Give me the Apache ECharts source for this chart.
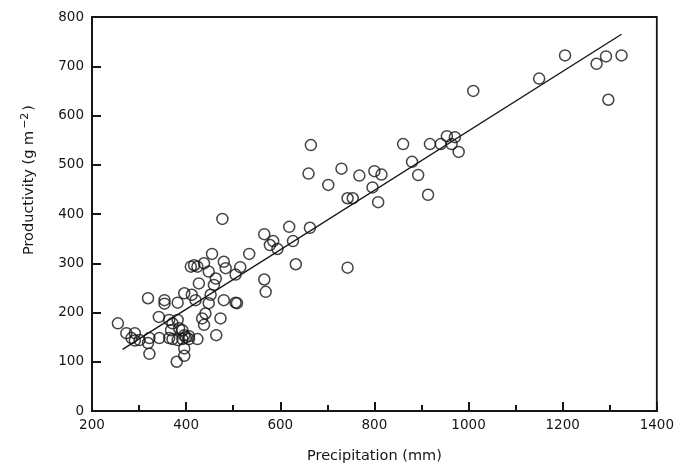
<!DOCTYPE html>
<html>
<head>
<meta charset="utf-8">
<script src="https://cdn.jsdelivr.net/npm/echarts@6/dist/echarts.min.js"></script>
<style>html,body{margin:0;padding:0;background:#fff}#c{width:677px;height:470px}</style>
</head>
<body>
<div id="c"></div>
<script>
// Precipitation (mm) of each site
var precipitation = [
  1010, 1150, 1205, 1272, 1292, 1325, 1297,
  861, 918, 880, 893, 914, 941, 954, 971, 964, 979,
  665, 660, 730, 702, 743, 754, 796, 808, 768, 800, 815, 743,
  566, 619, 663, 585, 578, 594, 627, 633, 566, 569, 534, 515, 505, 508, 477, 480, 484,
  455, 417, 410, 424, 438, 448, 463, 427, 459,
  319, 354, 354, 382, 396, 412, 420, 452, 448, 480, 505,
  342, 364, 371, 382, 385, 368, 392, 396, 406, 434, 438, 441, 464, 473,
  255, 273, 291, 284, 291, 301, 322, 319, 343, 364, 371, 382, 392, 399, 406, 424,
  322, 396, 396, 380
];
// Productivity (g m-2) of each site
var productivity = [
  650, 675, 722, 705, 720, 722, 632,
  542, 542, 506, 479, 439, 542, 558, 556, 542, 526,
  540, 482, 492, 459, 432, 432, 454, 424, 478, 487, 480, 291,
  359, 374, 372, 345, 337, 329, 345, 298, 267, 242, 319, 292, 277, 219, 390, 303, 290,
  319, 296, 293, 293, 300, 283, 269, 259, 256,
  229, 225, 218, 220, 239, 236, 225, 236, 219, 225, 220,
  191, 185, 178, 185, 168, 164, 164, 154, 152, 188, 175, 198, 154, 188,
  178, 158, 158, 148, 143, 144, 148, 138, 148, 148, 146, 144, 146, 150, 146, 146,
  116, 127, 112, 100
];
// Regression line end points
var fitX = [265, 1325];
var fitY = [125, 765];

var xTicks = [200, 400, 600, 800, 1000, 1200, 1400];
var yTicks = [0, 100, 200, 300, 400, 500, 600, 700, 800];

var pts = precipitation.map(function (x, i) { return [x, productivity[i]]; });
var fit = fitX.map(function (x, i) { return [x, fitY[i]]; });

var chart = echarts.init(document.getElementById('c'), null, {renderer: 'canvas'});
var ink = '#151515';
var font = 'DejaVu Sans';
chart.setOption({
  backgroundColor: '#fff',
  animation: false,
  grid: {left: 92, right: 15, top: 17, bottom: 59, show: true, borderColor: ink, borderWidth: 1.8},
  xAxis: [{
    type: 'value', min: xTicks[0], max: xTicks[xTicks.length - 1], interval: 200,
    name: 'Precipitation (mm)', nameLocation: 'middle', nameGap: 38,
    nameTextStyle: {fontFamily: font, fontSize: 14.5, color: ink},
    axisLine: {show: true, lineStyle: {color: ink, width: 1.8}},
    axisTick: {show: true, inside: true, length: 9, lineStyle: {color: ink, width: 2}},
    minorTick: {show: true, splitNumber: 2, length: 6, lineStyle: {color: ink, width: 2}},
    axisLabel: {fontFamily: font, fontSize: 13.5, color: ink, margin: 7,
      formatter: function (v) { return String(v); }},
    splitLine: {show: false}
  }],
  yAxis: {
    type: 'value', min: yTicks[0], max: yTicks[yTicks.length - 1], interval: 100,
    axisLine: {show: true, lineStyle: {color: ink, width: 1.8}},
    axisTick: {show: true, inside: true, length: 9, lineStyle: {color: ink, width: 2}},
    axisLabel: {fontFamily: font, fontSize: 13.5, color: ink, margin: 8},
    splitLine: {show: false}
  },
  graphic: [{
    type: 'text', x: 29, y: 180, rotation: Math.PI / 2,
    style: {
      text: 'Productivity (g m{sup|−2})',
      fontFamily: font, fontSize: 14.5, fill: ink,
      align: 'center', verticalAlign: 'middle',
      rich: {sup: {fontFamily: font, fontSize: 11, fill: ink, verticalAlign: 'top', padding: [0, 2, 8, 2]}}
    }
  }],
  series: [{
    type: 'line', data: fit, showSymbol: false, symbol: 'none',
    lineStyle: {color: ink, width: 1.4}, z: 1
  }, {
    type: 'scatter', data: pts, symbol: 'circle', symbolSize: 11,
    itemStyle: {color: 'rgba(255,255,255,0)', borderColor: ink, borderWidth: 1.5}, z: 2
  }]
});
</script>
</body>
</html>
